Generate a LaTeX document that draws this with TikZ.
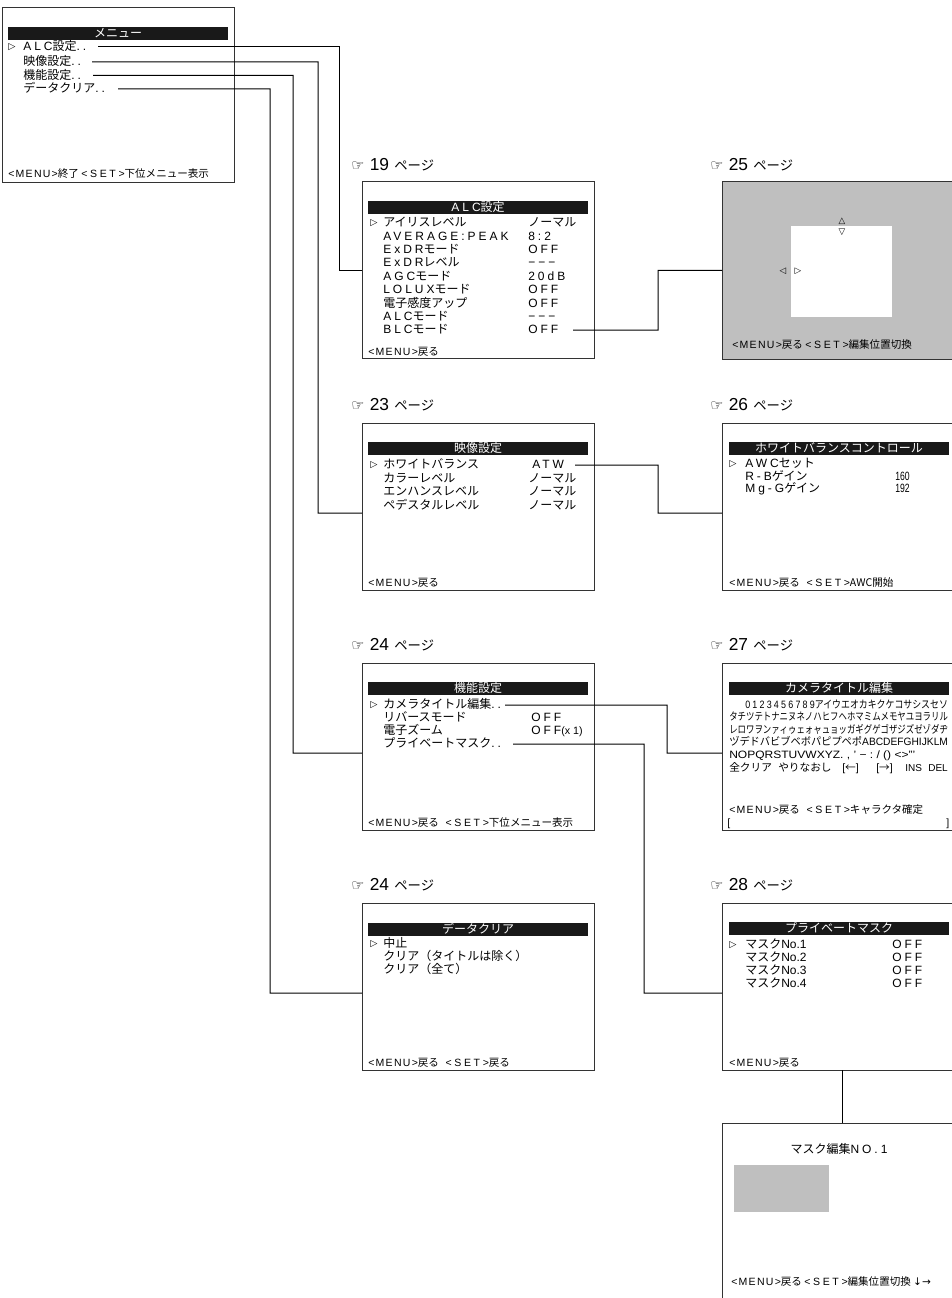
\documentclass[tikz,border=0pt]{standalone}
\usepackage{fontspec}
\setmainfont{Noto Sans CJK JP}
\newfontfamily\wlat[LetterSpace=25]{Liberation Sans}
\newfontfamily\wlats[LetterSpace=12]{Liberation Sans}
\newfontfamily\plat{Liberation Sans}
\newfontfamily\dvs{DejaVu Sans}
\newcommand\mnu{{\wlats <MENU>}}
\newcommand\sett{{\wlat <SET>}}
\newcommand\pagelbl[1]{{\dvs\fontsize{11}{11}\selectfont ☞}\hspace{4pt}{\plat\fontsize{13}{13}\selectfont #1}\hspace{4pt}{\fontsize{10}{10}\selectfont ページ}}
\newcommand\narrowtxt[1]{\scalebox{0.72}[1]{\plat #1}}
\begin{document}
\begin{tikzpicture}[x=0.75pt,y=-0.75pt,
 scr/.style={draw=black!80, line width=0.75pt, inner sep=0pt, outer sep=0pt, anchor=north west, minimum width=174pt},
 bar/.style={fill=black!90, inner sep=0pt, outer sep=0pt, anchor=north west, minimum width=165pt, minimum height=10pt, text=white, font=\fontsize{9}{9}\selectfont, text height=7pt, text depth=1.5pt},
 it/.style={anchor=west, inner sep=0pt, font=\fontsize{9}{9}\selectfont, text height=7pt, text depth=1.5pt},
 bt/.style={anchor=west, inner sep=0pt, font=\fontsize{7.9}{7.9}\selectfont, text height=6pt, text depth=1.2pt},
 chr/.style={anchor=west, inner sep=0pt, font=\fontsize{8}{8}\selectfont, text height=6.5pt, text depth=1.5pt},
 cur/.style={anchor=west, inner sep=0pt, font=\dvs\fontsize{7}{7}\selectfont},
 tri/.style={inner sep=0pt, font=\dvs\fontsize{6.5}{6.5}\selectfont},
 pg/.style={anchor=west, inner sep=0pt},
 con/.style={draw=black, line width=0.75pt},
 graybox/.style={fill=black!25, draw=none, inner sep=0pt, outer sep=0pt, anchor=north west}
]
\path[fill=white, use as bounding box] (0,0) rectangle (952,1298);

% ---------- main menu
\node[scr, minimum width=174pt, minimum height=131.25pt] (menu) at (2,8) {};
\node[bar] (menut) at (8,27) {メニュー};
\node[cur] (mc) at (8,47) {▷};
\node[it] (m1) at (23,47) {{\wlat ALC}設定{\wlat ..}};
\node[it] (m2) at (23,62) {映像設定{\wlat ..}};
\node[it] (m3) at (23,75.5) {機能設定{\wlat ..}};
\node[it] (m4) at (23,89) {データクリア{\wlat ..}};
\node[bt] (mb) at (8,174) {\mnu 終了 \sett 下位メニュー表示};

% ---------- page labels
\node[pg] (l19) at (351,165) {\pagelbl{19}};
\node[pg] (l25) at (710,165) {\pagelbl{25}};
\node[pg] (l23) at (351,405) {\pagelbl{23}};
\node[pg] (l26) at (710,405) {\pagelbl{26}};
\node[pg] (l24a) at (351,645) {\pagelbl{24}};
\node[pg] (l27) at (710,645) {\pagelbl{27}};
\node[pg] (l24b) at (351,885) {\pagelbl{24}};
\node[pg] (l28) at (710,885) {\pagelbl{28}};

% ---------- ALC
\node[scr, minimum height=132pt] (alc) at (362,182) {};
\node[bar] (alct) at (368,201) {{\wlat ALC}設定};
\node[cur] (ac) at (370,223) {▷};
\node[it] (a0) at (383,223) {アイリスレベル};
\node[it] (a1) at (383,236.4) {\wlat AVERAGE:PEAK};
\node[it] (a2) at (383,249.8) {{\wlat ExDR}モード};
\node[it] (a3) at (383,263.2) {{\wlat ExDR}レベル};
\node[it] (a4) at (383,276.6) {{\wlat AGC}モード};
\node[it] (a5) at (383,290) {{\wlat LOLUX}モード};
\node[it] (a6) at (383,303.4) {電子感度アップ};
\node[it] (a7) at (383,316.8) {{\wlat ALC}モード};
\node[it] (a8) at (383,330.2) {{\wlat BLC}モード};
\node[it] (av0) at (528,223) {ノーマル};
\node[it] (av1) at (528,236.4) {\wlat 8:2};
\node[it] (av2) at (528,249.8) {\wlat OFF};
\node[it] (av3) at (528,263.2) {\wlat −−−};
\node[it] (av4) at (528,276.6) {\wlat 20dB};
\node[it] (av5) at (528,290) {\wlat OFF};
\node[it] (av6) at (528,303.4) {\wlat OFF};
\node[it] (av7) at (528,316.8) {\wlat −−−};
\node[it] (av8) at (528,330.2) {\wlat OFF};
\node[bt] (ab) at (368,352) {\mnu 戻る};

% ---------- 25
\node[scr, fill=black!25, minimum height=132.75pt] (p25) at (722,182) {};
\node[fill=white, inner sep=0pt, outer sep=0pt, anchor=north west, minimum width=75.75pt, minimum height=68.25pt] (win) at (791,226) {};
\node[tri] (tu) at (842,221) {△};
\node[tri] (td) at (842,232) {▽};
\node[tri] (tl) at (783,271) {◁};
\node[tri] (tr) at (798,271) {▷};
\node[bt] (b25) at (732,345) {\mnu 戻る \sett 編集位置切換};

% ---------- video
\node[scr, minimum height=125.25pt] (vid) at (362,423) {};
\node[bar] (vidt) at (368,442) {映像設定};
\node[cur] (vc) at (370,465) {▷};
\node[it] (v0) at (383,465) {ホワイトバランス};
\node[it] (v1) at (383,478.5) {カラーレベル};
\node[it] (v2) at (383,492) {エンハンスレベル};
\node[it] (v3) at (383,505.5) {ペデスタルレベル};
\node[it] (vv0) at (532,465) {\wlat ATW};
\node[it] (vv1) at (528,478.5) {ノーマル};
\node[it] (vv2) at (528,492) {ノーマル};
\node[it] (vv3) at (528,505.5) {ノーマル};
\node[bt] (vb) at (368,583) {\mnu 戻る};

% ---------- 26
\node[scr, minimum height=125.25pt] (p26) at (722,423) {};
\node[bar] (p26t) at (729,442) {ホワイトバランスコントロール};
\node[cur] (wc) at (729,464) {▷};
\node[it] (w0) at (745,464) {{\wlat AWC}セット};
\node[it] (w1) at (745,477) {{\wlat R-B}ゲイン};
\node[it] (w2) at (745,489) {{\wlat Mg-G}ゲイン};
\node[it] (wv1) at (895,477) {\narrowtxt{160}};
\node[it] (wv2) at (895,489) {\narrowtxt{192}};
\node[bt] (wb) at (729,583) {\mnu 戻る\hspace{5pt}\sett AWC開始};

% ---------- function
\node[scr, minimum height=125.25pt] (func) at (362,663) {};
\node[bar] (funct) at (368,682) {機能設定};
\node[cur] (fc) at (370,705) {▷};
\node[it] (f0) at (383,705) {カメラタイトル編集{\wlat ..}};
\node[it] (f1) at (383,718) {リバースモード};
\node[it] (f2) at (383,731) {電子ズーム};
\node[it] (f3) at (383,744) {プライベートマスク{\wlat ..}};
\node[it] (fv1) at (531,718) {\wlat OFF};
\node[it] (fv2) at (531,731) {{\wlat OFF}{\plat\fontsize{8}{8}\selectfont (x 1)}};
\node[bt] (fb) at (368,823) {\mnu 戻る\hspace{5pt}\sett 下位メニュー表示};

% ---------- 27
\node[scr, minimum height=125.25pt] (p27) at (722,663) {};
\node[bar] (p27t) at (729,682) {カメラタイトル編集};
\node[chr] (r1) at (745,705) {\resizebox{152pt}{\height}{{\wlat 0123456789}アイウエオカキクケコサシスセソ}};
\node[chr] (r2) at (729,717.5) {\resizebox{164pt}{\height}{タチツテトナニヌネノハヒフヘホマミムメモヤユヨラリル}};
\node[chr] (r3) at (729,730) {\resizebox{164pt}{\height}{レロワヲンァィゥェォャュョッガギグゲゴザジズゼゾダヂ}};
\node[chr] (r4) at (729,742.5) {\resizebox{164pt}{\height}{ヅデドバビブベボパピプペポ{\plat ABCDEFGHIJKLM}}};
\node[chr] (r5) at (729,755) {\resizebox{139.5pt}{\height}{{\plat NOPQRSTUVWXYZ. ,\ ’\ −\ :\ /\ ()\ <>”’}}};
\node[chr] (r6a) at (729,768) {全クリア};
\node[chr] (r6b) at (778,768) {やりなおし};
\node[chr] (r6c) at (842,768) {{\plat [}←{\plat ]}};
\node[chr] (r6d) at (876,768) {{\plat [}→{\plat ]}};
\node[chr, font=\fontsize{7.5}{7.5}\selectfont] (r6e) at (905,768) {\plat INS};
\node[chr, font=\fontsize{7.5}{7.5}\selectfont] (r6f) at (928,768) {\plat DEL};
\node[bt] (kb) at (729,810) {\mnu 戻る\hspace{5pt}\sett キャラクタ確定};
\node[bt] (kl) at (727,823) {\plat [};
\node[bt] (kr) at (946,823) {\plat ]};

% ---------- data clear
\node[scr, minimum height=125.25pt] (clr) at (362,903) {};
\node[bar] (clrt) at (368,923) {データクリア};
\node[cur] (cc) at (370,944) {▷};
\node[it] (c0) at (383,944) {中止};
\node[it] (c1) at (383,957) {クリア（タイトルは除く）};
\node[it] (c2) at (383,970) {クリア（全て）};
\node[bt] (cb) at (368,1063) {\mnu 戻る\hspace{5pt}\sett 戻る};

% ---------- 28
\node[scr, minimum height=125.25pt] (p28) at (722,903) {};
\node[bar] (p28t) at (729,922) {プライベートマスク};
\node[cur] (pc) at (729,945) {▷};
\node[it] (q0) at (745,945) {マスク{\plat No.1}};
\node[it] (q1) at (745,958) {マスク{\plat No.2}};
\node[it] (q2) at (745,971) {マスク{\plat No.3}};
\node[it] (q3) at (745,984) {マスク{\plat No.4}};
\node[it] (qv0) at (892,945) {\wlat OFF};
\node[it] (qv1) at (892,958) {\wlat OFF};
\node[it] (qv2) at (892,971) {\wlat OFF};
\node[it] (qv3) at (892,984) {\wlat OFF};
\node[bt] (qb) at (729,1063) {\mnu 戻る};

% ---------- mask edit
\node[scr, minimum height=135pt] (mask) at (722,1123) {};
\node[it, anchor=center] (mt) at (839,1150) {マスク編集{\wlat NO.1}};
\node[graybox, minimum width=71.25pt, minimum height=35.25pt] (mg) at (734,1165) {};
\node[bt] (mkb) at (731,1282) {\mnu 戻る \sett 編集位置切換 {\dvs ↓→}};

% ---------- connector start points
\coordinate (s1) at (98,47);
\coordinate (s2) at (92,62);
\coordinate (s3) at (93,75.5);
\coordinate (s4) at (118,89);
\coordinate (s5) at (573,330.2);
\coordinate (s6) at (575,465);
\coordinate (s7) at (505,705);
\coordinate (s8) at (513,744);

\draw[con] (s1) -| (339,270) -- (alc.west);
\draw[con] (s2) -| (318,513) -- ([yshift=-4.9pt]vid.west);
\draw[con] (s3) -| (293,753) -- ([yshift=-4.9pt]func.west);
\draw[con] (s4) -| (270,993) -- ([yshift=-4.9pt]clr.west);
\draw[con] (s5) -| (658,270.4) -- (p25.west);
\draw[con] (s6) -| (658,513) -- ([yshift=-4.9pt]p26.west);
\draw[con] (s7) -| (667,753) -- ([yshift=-4.9pt]p27.west);
\draw[con] (s8) -| (644,993) -- ([yshift=-4.9pt]p28.west);
\draw[con] ([xshift=3pt]p28.south) -- ([xshift=3pt]mask.north);
\end{tikzpicture}
\end{document}
